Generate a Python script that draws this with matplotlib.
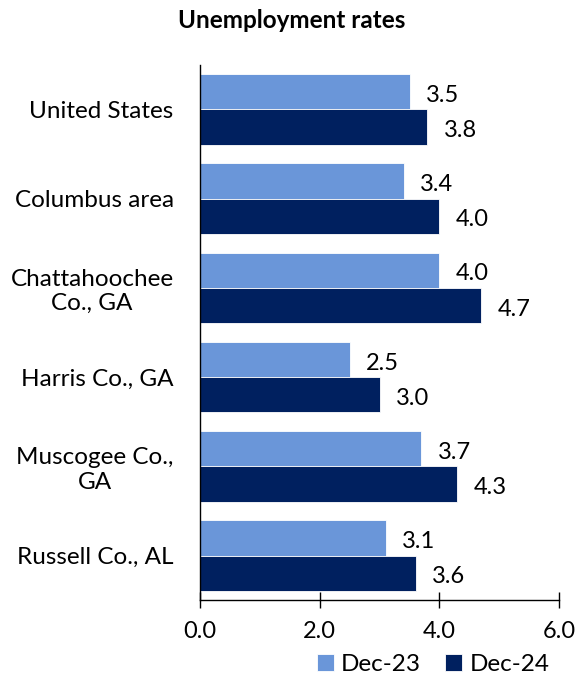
import matplotlib.pyplot as plt
import numpy as np

plt.rcParams['font.family'] = ['Lato', 'DejaVu Sans']

categories = ["United States", "Columbus area", "Chattahoochee\nCo., GA",
              "Harris Co., GA", "Muscogee Co.,\nGA", "Russell Co., AL"]
dec23 = [3.5, 3.4, 4.0, 2.5, 3.7, 3.1]
dec24 = [3.8, 4.0, 4.7, 3.0, 4.3, 3.6]
series_names = ["Dec-23", "Dec-24"]
colors = ["#6a96d9", "#00205f"]

fig = plt.figure(figsize=(5.8, 6.82), dpi=100)
ax = fig.add_axes([0.345, 0.12, 0.619, 0.785])

y = np.arange(len(categories))
h = 0.395
b1 = ax.barh(y - h / 2, dec23, height=h, color=colors[0], edgecolor="white",
             linewidth=0.6, label=series_names[0])
b2 = ax.barh(y + h / 2, dec24, height=h, color=colors[1], edgecolor="white",
             linewidth=0.6, label=series_names[1])

for bars, vals in ((b1, dec23), (b2, dec24)):
    for bar, v in zip(bars, vals):
        ax.text(v + 0.27, bar.get_y() + bar.get_height() / 2 + 0.04,
                "%.1f" % v, va="center", ha="left", fontsize=17)

ax.set_ylim(len(categories) - 0.5, -0.5)
ax.set_xlim(0, 6)
ax.set_xticks([0, 2, 4, 6])
ax.set_xticklabels(["0.0", "2.0", "4.0", "6.0"], fontsize=17)
ax.set_yticks(y)
ax.set_yticklabels(categories, fontsize=17.5, ha="right", multialignment="center")
ax.tick_params(axis="y", length=0, pad=19)
ax.tick_params(axis="x", direction="inout", length=12, width=1, pad=9)

for s in ["top", "right"]:
    ax.spines[s].set_visible(False)
ax.spines["left"].set_linewidth(1)
ax.spines["bottom"].set_linewidth(1)

fig.text(0.503, 0.97, "Unemployment rates", fontsize=17.5, fontweight="bold",
         ha="center", va="center")

fig.legend(loc="center right", bbox_to_anchor=(0.985, 0.025), ncol=2, frameon=False,
           fontsize=17.5, handlelength=0.7, handleheight=0.7, handletextpad=0.3,
           columnspacing=1.0)

fig.savefig("out.png")
